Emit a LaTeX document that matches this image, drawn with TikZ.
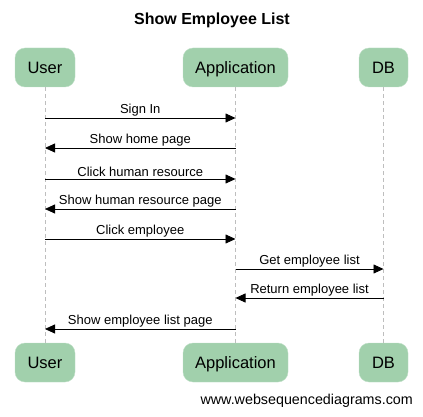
\documentclass[tikz,border=0pt]{standalone}
\usepackage{fontspec}
\setmainfont{Liberation Sans}
\usetikzlibrary{arrows.meta}
\definecolor{actorfill}{RGB}{161,208,172}
\definecolor{lifeline}{RGB}{190,190,190}
\begin{document}
\begin{tikzpicture}[x=1pt,y=-1pt,
  actor/.style={fill=actorfill,draw=actorfill!70!white,rounded corners=10pt,
    minimum height=39pt,inner sep=0pt,text height=14pt,text depth=2pt,
    font=\fontsize{16.5}{18}\selectfont},
  lline/.style={draw=lifeline,dash pattern=on 4pt off 3pt},
  msg/.style={-{Triangle[length=10pt,width=9pt]},line width=0.8pt},
  lbl/.style={font=\fontsize{13}{15}\selectfont,inner sep=1pt}]
\useasboundingbox (0,0) rectangle (423,417);
\node[font=\bfseries\fontsize{16}{18}\selectfont] (title) at (212,20) {Show Employee List};
% actor heads
\node[actor,minimum width=60pt] (ut) at (45,67.5) {User};
\node[actor,minimum width=105pt] (at) at (235.5,67.5) {Application};
\node[actor,minimum width=49pt] (dt) at (383.5,67.5) {DB};
% actor feet
\node[actor,minimum width=60pt] (ub) at (45,362.5) {User};
\node[actor,minimum width=105pt] (ab) at (235.5,362.5) {Application};
\node[actor,minimum width=49pt] (db) at (383.5,362.5) {DB};
% lifelines
\draw[lline] (ut.south) -- (ub.north);
\draw[lline] (at.south) -- (ab.north);
\draw[lline] (dt.south) -- (db.north);
% message anchors on the lifelines
\foreach \n/\y in {1/118,2/148,3/179,4/209,5/239,6/269,7/298,8/329}{
  \coordinate (u\n) at (45,\y);
  \coordinate (a\n) at (235.5,\y);
  \coordinate (d\n) at (383.5,\y);
}
\draw[msg] (u1) -- node[lbl,above=0.5pt] {Sign In} (a1);
\draw[msg] (a2) -- node[lbl,above=0.5pt] {Show home page} (u2);
\draw[msg] (u3) -- node[lbl,above=0.5pt] {Click human resource} (a3);
\draw[msg] (a4) -- node[lbl,above=0.5pt] {Show human resource page} (u4);
\draw[msg] (u5) -- node[lbl,above=0.5pt] {Click employee} (a5);
\draw[msg] (a6) -- node[lbl,above=0.5pt] {Get employee list} (d6);
\draw[msg] (d7) -- node[lbl,above=0.5pt] {Return employee list} (a7);
\draw[msg] (a8) -- node[lbl,above=0.5pt] {Show employee list page} (u8);
% footer
\node[anchor=east,font=\fontsize{14.3}{16}\selectfont,inner sep=0pt] (credit) at (413,401) {www.websequencediagrams.com};
\end{tikzpicture}
\end{document}
